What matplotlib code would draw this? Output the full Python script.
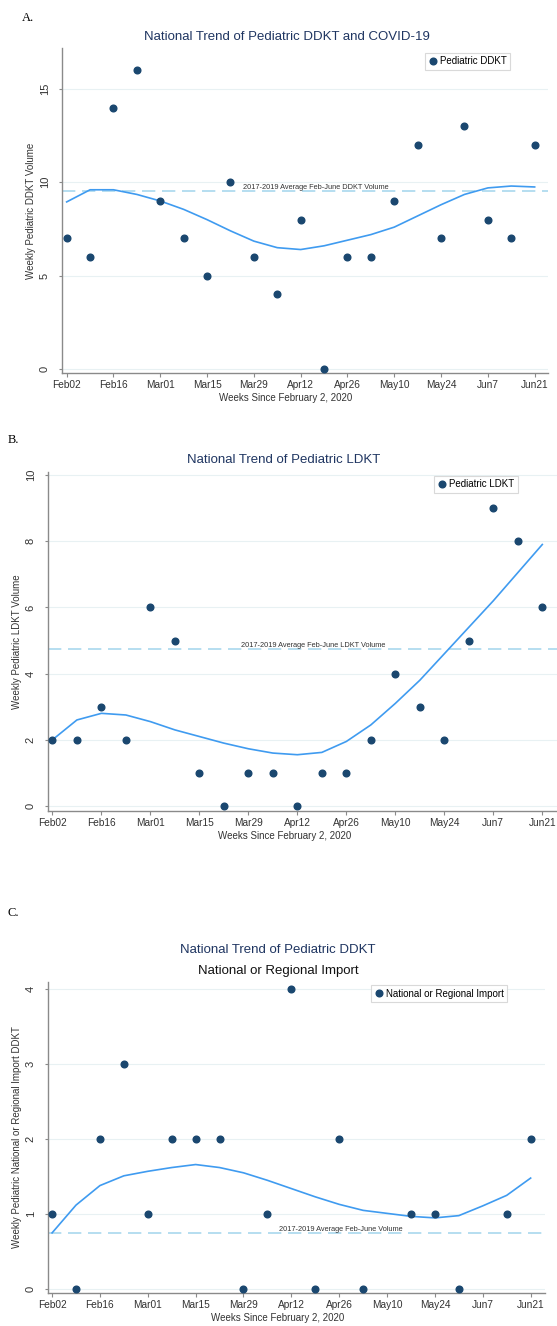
import numpy as np
import matplotlib
matplotlib.use('Agg')
import matplotlib.pyplot as plt

plt.rcParams['font.family'] = ['Liberation Sans', 'DejaVu Sans']

# weeks since Feb 2, 2020 (0..20)
weeks = list(range(21))
tick_weeks = list(range(0, 21, 2))
tick_labels = ['Feb02', 'Feb16', 'Mar01', 'Mar15', 'Mar29', 'Apr12',
               'Apr26', 'May10', 'May24', 'Jun7', 'Jun21']

# panel A: deceased donor
ddkt = [7, 6, 14, 16, 9, 7, 5, 10, 6, 4, 8, 0, 6, 6, 9, 12, 7, 13, 8, 7, 12]
ddkt_trend = [8.95, 9.6, 9.6, 9.35, 9.0, 8.55, 8.0, 7.4, 6.85, 6.5, 6.4,
              6.6, 6.9, 7.2, 7.6, 8.2, 8.8, 9.35, 9.7, 9.8, 9.75]
ddkt_avg = 9.53

# panel B: living donor
ldkt = [2, 2, 3, 2, 6, 5, 1, 0, 1, 1, 0, 1, 1, 2, 4, 3, 2, 5, 9, 8, 6]
ldkt_trend = [2.0, 2.6, 2.8, 2.75, 2.55, 2.3, 2.1, 1.9, 1.73, 1.6, 1.55,
              1.62, 1.95, 2.45, 3.1, 3.8, 4.6, 5.4, 6.2, 7.05, 7.9]
ldkt_avg = 4.74

# panel C: national / regional import (no value for May10, Jun7)
imp = [1, 0, 2, 3, 1, 2, 2, 2, 0, 1, 4, 0, 2, 0, np.nan, 1, 1, 0, np.nan, 1, 2]
imp_trend = [0.75, 1.12, 1.38, 1.51, 1.57, 1.62, 1.66, 1.62, 1.55, 1.45, 1.34,
             1.23, 1.13, 1.05, 1.01, 0.97, 0.95, 0.98, 1.11, 1.25, 1.48]
imp_avg = 0.75

navy = '#1a476f'
trend_col = '#3f9bf0'
avg_col = '#a9d8ee'
grid_col = '#e8f1f3'
axis_col = '#8a8a8a'
title_col = '#1f3561'

W, H = 557, 1326


def panel(box, y, trend, avg, ylim, yticks, xlim, ylabel, legend_label,
          avg_text, avg_x, xlabel_x, ylabel_x, leg_anchor):
    # box = (left, top, right, bottom) in pixels
    l, t, r, b = box
    ax = fig.add_axes([l / W, 1 - b / H, (r - l) / W, (b - t) / H])
    ax.set_xlim(*xlim)
    ax.set_ylim(*ylim)
    ax.set_yticks(yticks)
    ax.set_xticks(tick_weeks)
    ax.set_xticklabels(tick_labels)
    for tk in yticks:
        ax.axhline(tk, color=grid_col, lw=0.8, zorder=0)
    ax.axhline(avg, color=avg_col, lw=1.2, dashes=(8, 4), zorder=1)
    ax.text(avg_x, avg, avg_text, fontsize=5.3, color='#333333',
            ha='center', va='bottom', zorder=2)
    ax.plot(weeks, trend, color=trend_col, lw=1.2, zorder=2)
    ax.plot(weeks, y, 'o', color=navy, ms=4.8, label=legend_label, zorder=3)
    for s in ['top', 'right']:
        ax.spines[s].set_visible(False)
    for s in ['left', 'bottom']:
        ax.spines[s].set_color(axis_col)
        ax.spines[s].set_linewidth(1.0)
    ax.tick_params(axis='x', colors=axis_col, labelcolor='#333333',
                   labelsize=7.3, length=2.8, width=0.8, pad=2.5)
    ax.tick_params(axis='y', colors=axis_col, labelcolor='#333333',
                   labelsize=8, length=2.3, width=0.8, pad=6.5)
    plt.setp(ax.get_yticklabels(), rotation=90, va='center')
    ax.set_ylabel(ylabel, fontsize=7, color='#333333')
    ax.yaxis.set_label_coords((ylabel_x - l) / (r - l), 0.5)
    ax.set_xlabel('Weeks Since February 2, 2020', fontsize=7, color='#333333')
    ax.xaxis.label.set_va('center')
    ax.xaxis.set_label_coords(xlabel_x, -25 / (b - t))
    leg = ax.legend(loc='upper right', bbox_to_anchor=leg_anchor, fontsize=7,
                    frameon=True, fancybox=False, borderpad=0.35,
                    handletextpad=0.2, handlelength=1.0, borderaxespad=0)
    leg.get_frame().set_edgecolor('#d0d0d0')
    leg.get_frame().set_linewidth(0.8)
    return ax


fig = plt.figure(figsize=(W / 100, H / 100), dpi=100)

# A
panel((62, 48, 548, 373), ddkt, ddkt_trend, ddkt_avg,
      (-0.21, 17.19), [0, 5, 10, 15], (-0.2, 20.57),
      'Weekly Pediatric DDKT Volume', 'Pediatric DDKT',
      '2017-2019 Average Feb-June DDKT Volume', 10.65, 0.461, 36.5,
      (0.922, 0.985))
fig.text(22 / W, 1 - 18 / H, 'A.', family='Liberation Serif', fontsize=9,
         va='center')
fig.text(287 / W, 1 - 37 / H, 'National Trend of Pediatric DDKT and COVID-19',
         fontsize=9.5, color=title_col, ha='center', va='center')

# B
panel((48, 472, 557, 811), ldkt, ldkt_trend, ldkt_avg,
      (-0.15, 10.09), [0, 2, 4, 6, 8, 10], (-0.18, 20.6),
      'Weekly Pediatric LDKT Volume', 'Pediatric LDKT',
      '2017-2019 Average Feb-June LDKT Volume', 10.66, 0.464, 22.5,
      (0.923, 0.988))
fig.text(8 / W, 1 - 440 / H, 'B.', family='Liberation Serif', fontsize=9,
         va='center')
fig.text(284 / W, 1 - 460 / H, 'National Trend of Pediatric LDKT',
         fontsize=9.5, color=title_col, ha='center', va='center')

# C
panel((48, 982, 545, 1293), imp, imp_trend, imp_avg,
      (-0.05, 4.09), [0, 1, 2, 3, 4], (-0.17, 20.6),
      'Weekly Pediatric National or Regional Import DDKT',
      'National or Regional Import',
      '2017-2019 Average Feb-June Volume', 12.07, 0.463, 22.5,
      (0.924, 0.99))
fig.text(8 / W, 1 - 913 / H, 'C.', family='Liberation Serif', fontsize=9,
         va='center')
fig.text(278 / W, 1 - 950 / H, 'National Trend of Pediatric DDKT',
         fontsize=9.5, color=title_col, ha='center', va='center')
fig.text(278 / W, 1 - 971 / H, 'National or Regional Import',
         fontsize=9.5, color='#111111', ha='center', va='center')

fig.savefig('out.png', dpi=100)
